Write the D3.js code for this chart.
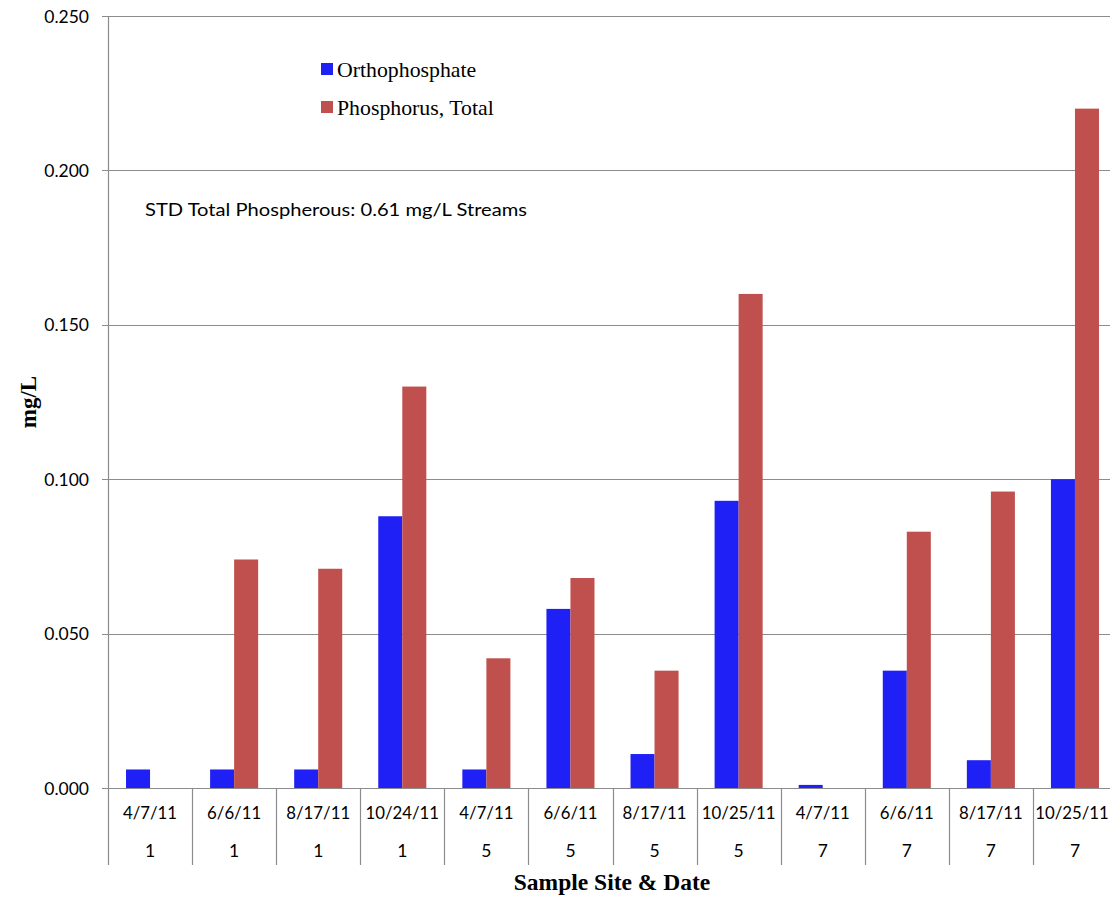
<!DOCTYPE html>
<html>
<head>
<meta charset="utf-8">
<script src="https://cdn.jsdelivr.net/npm/d3@7"></script>
<style>
  html, body { margin: 0; padding: 0; background: #fff; }
  svg { display: block; }
</style>
</head>
<body>
<svg id="chart" width="1110" height="898"></svg>
<script>
// ---- data ----
const dates = ["4/7/11","6/6/11","8/17/11","10/24/11","4/7/11","6/6/11","8/17/11","10/25/11","4/7/11","6/6/11","8/17/11","10/25/11"];
const sites = ["1","1","1","1","5","5","5","5","7","7","7","7"];
const orthophosphate = [0.006, 0.006, 0.006, 0.088, 0.006, 0.058, 0.011, 0.093, 0.001, 0.038, 0.009, 0.100];
const phosphorusTotal = [0, 0.074, 0.071, 0.130, 0.042, 0.068, 0.038, 0.160, 0, 0.083, 0.096, 0.220];
const seriesNames = ["Orthophosphate", "Phosphorus, Total"];
const yTicks = [0, 0.05, 0.10, 0.15, 0.20, 0.25];

(function () {
const colors = ["#1F20F5", "#C0504D"];
const gridColor = "#8c8c8c";
const sans = "Lato, 'Open Sans', sans-serif";
const serif = "'Liberation Serif', 'Times New Roman', serif";

const svg = d3.select("#chart");
const pLeft = 108, pRight = 1117, pTop = 16, pBottom = 788;

const idx = d3.range(dates.length);
const x = d3.scaleBand().domain(idx).range([pLeft, pRight]).padding(0);
const y = d3.scaleLinear().domain([0, 0.25]).range([pBottom, pTop]);
const barW = x.bandwidth() * 0.2857;

// gridlines
svg.append("g").selectAll("line").data(yTicks).join("line")
  .attr("x1", pLeft - 6).attr("x2", pRight)
  .attr("y1", d => Math.round(y(d)) + 0.5).attr("y2", d => Math.round(y(d)) + 0.5)
  .attr("stroke", gridColor).attr("stroke-width", 1.2);

// y axis line
svg.append("line").attr("x1", pLeft + 0.5).attr("x2", pLeft + 0.5)
  .attr("y1", pTop).attr("y2", 865)
  .attr("stroke", gridColor).attr("stroke-width", 1.2);

// y tick labels
svg.append("g").selectAll("text").data(yTicks).join("text")
  .attr("x", 89).attr("y", d => y(d) + 6.5)
  .attr("text-anchor", "end")
  .attr("font-family", sans).attr("font-size", 17.5)
  .attr("fill", "#000")
  .text(d => d3.format(".3f")(d));

// bars
const groups = svg.append("g");
const seriesData = [orthophosphate, phosphorusTotal];
seriesData.forEach((vals, s) => {
  groups.append("g").selectAll("rect").data(idx).join("rect")
    .attr("x", i => x(i) + x.bandwidth() / 2 - barW + s * barW)
    .attr("width", barW)
    .attr("y", i => y(vals[i]))
    .attr("height", i => y(0) - y(vals[i]))
    .attr("fill", colors[s]);
});

// x category separators
svg.append("g").selectAll("line").data(idx.slice(1)).join("line")
  .attr("x1", i => Math.round(x(i)) + 0.5).attr("x2", i => Math.round(x(i)) + 0.5)
  .attr("y1", pBottom).attr("y2", 865)
  .attr("stroke", gridColor).attr("stroke-width", 1.2);

// x labels
svg.append("g").selectAll("text").data(idx).join("text")
  .attr("x", i => Math.min(x(i) + x.bandwidth() / 2, 1072)).attr("y", 819)
  .attr("text-anchor", "middle")
  .attr("font-family", sans).attr("font-size", 16.8)
  .text(i => dates[i]);
svg.append("g").selectAll("text").data(idx).join("text")
  .attr("x", i => x(i) + x.bandwidth() / 2).attr("y", 857)
  .attr("text-anchor", "middle")
  .attr("font-family", sans).attr("font-size", 17.5)
  .text(i => sites[i]);

// axis titles
svg.append("text")
  .attr("x", 612).attr("y", 890)
  .attr("text-anchor", "middle")
  .attr("font-family", serif)
  .attr("font-weight", "bold").attr("font-size", 23.5)
  .text("Sample Site & Date");

svg.append("text")
  .attr("transform", "translate(36,402) rotate(-90)")
  .attr("text-anchor", "middle")
  .attr("font-family", serif)
  .attr("font-weight", "bold").attr("font-size", 23)
  .text("mg/L");

// legend
const legendY = [69, 107];
seriesNames.forEach((name, s) => {
  svg.append("rect").attr("x", 321).attr("y", legendY[s] - 6).attr("width", 12).attr("height", 12)
    .attr("fill", colors[s]);
  svg.append("text").attr("x", 337).attr("y", legendY[s] + 8)
    .attr("font-family", serif).attr("font-size", 21.8)
    .text(name);
});

// annotation
svg.append("text")
  .attr("x", 145).attr("y", 216)
  .attr("font-family", sans).attr("font-size", 18)
  .attr("textLength", 382).attr("lengthAdjust", "spacingAndGlyphs")
  .text("STD Total Phospherous: 0.61 mg/L Streams");
})();
</script>
</body>
</html>
